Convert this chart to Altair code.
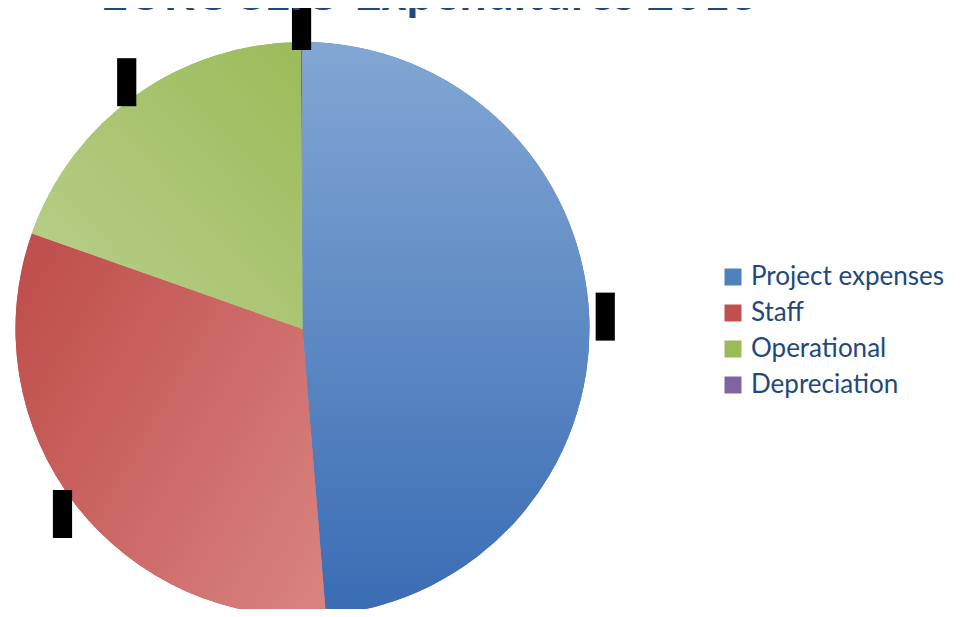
import math
import altair as alt
import pandas as pd

# ---- data ----
categories = ["Project expenses", "Staff", "Operational", "Depreciation"]
values = [48.7, 31.7, 19.5, 0.1]
legend_colors = ["#4F81BD", "#C0504D", "#9BBB59", "#8064A2"]
title_text = ["EUROCLIO Expenditures 2013"]

# gradient stops per slice (light/dark shades of the series colours)
blue_stops = ["#82A7D4", "#3A6CB4"]
red_stops = ["#C0504D", "#D8827F"]
green_stops = ["#9BBB59", "#BBD08E"]

df = pd.DataFrame({"category": categories, "value": values,
                   "order": list(range(len(categories)))})
total = float(sum(values))

CX, CY, R = 294.5, 321, 287
LABEL_R = 303

theta_scale = alt.Scale(domain=[0, total])

base = (
    alt.Chart(df)
    .transform_window(cum="sum(value)", sort=[alt.SortField("order")], frame=[None, 0])
    .transform_calculate(start="datum.cum - datum.value")
)

enc = dict(
    theta=alt.Theta("start:Q", scale=theta_scale),
    theta2="cum:Q",
    x=alt.value(CX),
    y=alt.value(CY),
)

pie = base.mark_arc(outerRadius=R, strokeWidth=0).encode(
    color=alt.Color(
        "category:N",
        scale=alt.Scale(domain=categories, range=legend_colors),
        legend=alt.Legend(
            title=None, orient="none", legendX=712, legendY=256,
            symbolType="square", symbolSize=289, symbolStrokeWidth=0,
            labelFontSize=26, labelFont="Lato", labelColor="#1F497D",
            rowPadding=10, labelOffset=5, labelLimit=400,
        ),
    ),
    **enc,
)


def grad_layer(cat, stops, x1, y1, x2, y2):
    return base.transform_filter(alt.datum.category == cat).mark_arc(
        outerRadius=R, strokeWidth=0,
        fill=alt.Gradient(
            gradient="linear",
            stops=[alt.GradientStop(color=stops[0], offset=0),
                   alt.GradientStop(color=stops[1], offset=1)],
            x1=x1, y1=y1, x2=x2, y2=y2,
        ),
    ).encode(**enc)


g_blue = grad_layer(categories[0], blue_stops, 0, 0, 0, 1)
g_red = grad_layer(categories[1], red_stops, 0, 0.2, 1, 0.9)
g_green = grad_layer(categories[2], green_stops, 1, 0, 0, 1)

boxes = base.transform_calculate(
    mid="(datum.start + datum.cum) / 2 / %f * 2 * PI" % total
).transform_calculate(
    px="%f + %f * sin(datum.mid)" % (CX, LABEL_R),
    py="%f - %f * cos(datum.mid)" % (CY, LABEL_R),
).mark_point(
    shape="M-0.4,-1L0.4,-1L0.4,1L-0.4,1Z", filled=True, size=2304,
    color="black", opacity=1, strokeWidth=0,
).encode(
    x=alt.X("px:Q", scale=None, axis=None),
    y=alt.Y("py:Q", scale=None, axis=None),
)

title = alt.Chart(pd.DataFrame({"t": title_text})).mark_text(
    font="Lato", fontSize=48, fontWeight="bold", color="#1F497D",
    align="center", baseline="alphabetic",
).encode(text="t:N", x=alt.value(421), y=alt.value(2))

chart = (
    alt.layer(pie, g_blue, g_red, g_green, boxes, title)
    .properties(width=945, height=601, padding=0, autosize=alt.AutoSizeParams(type="none"))
    .configure_view(stroke=None)
)

chart.save("out.html", embed_options={"renderer": "svg", "actions": False})
